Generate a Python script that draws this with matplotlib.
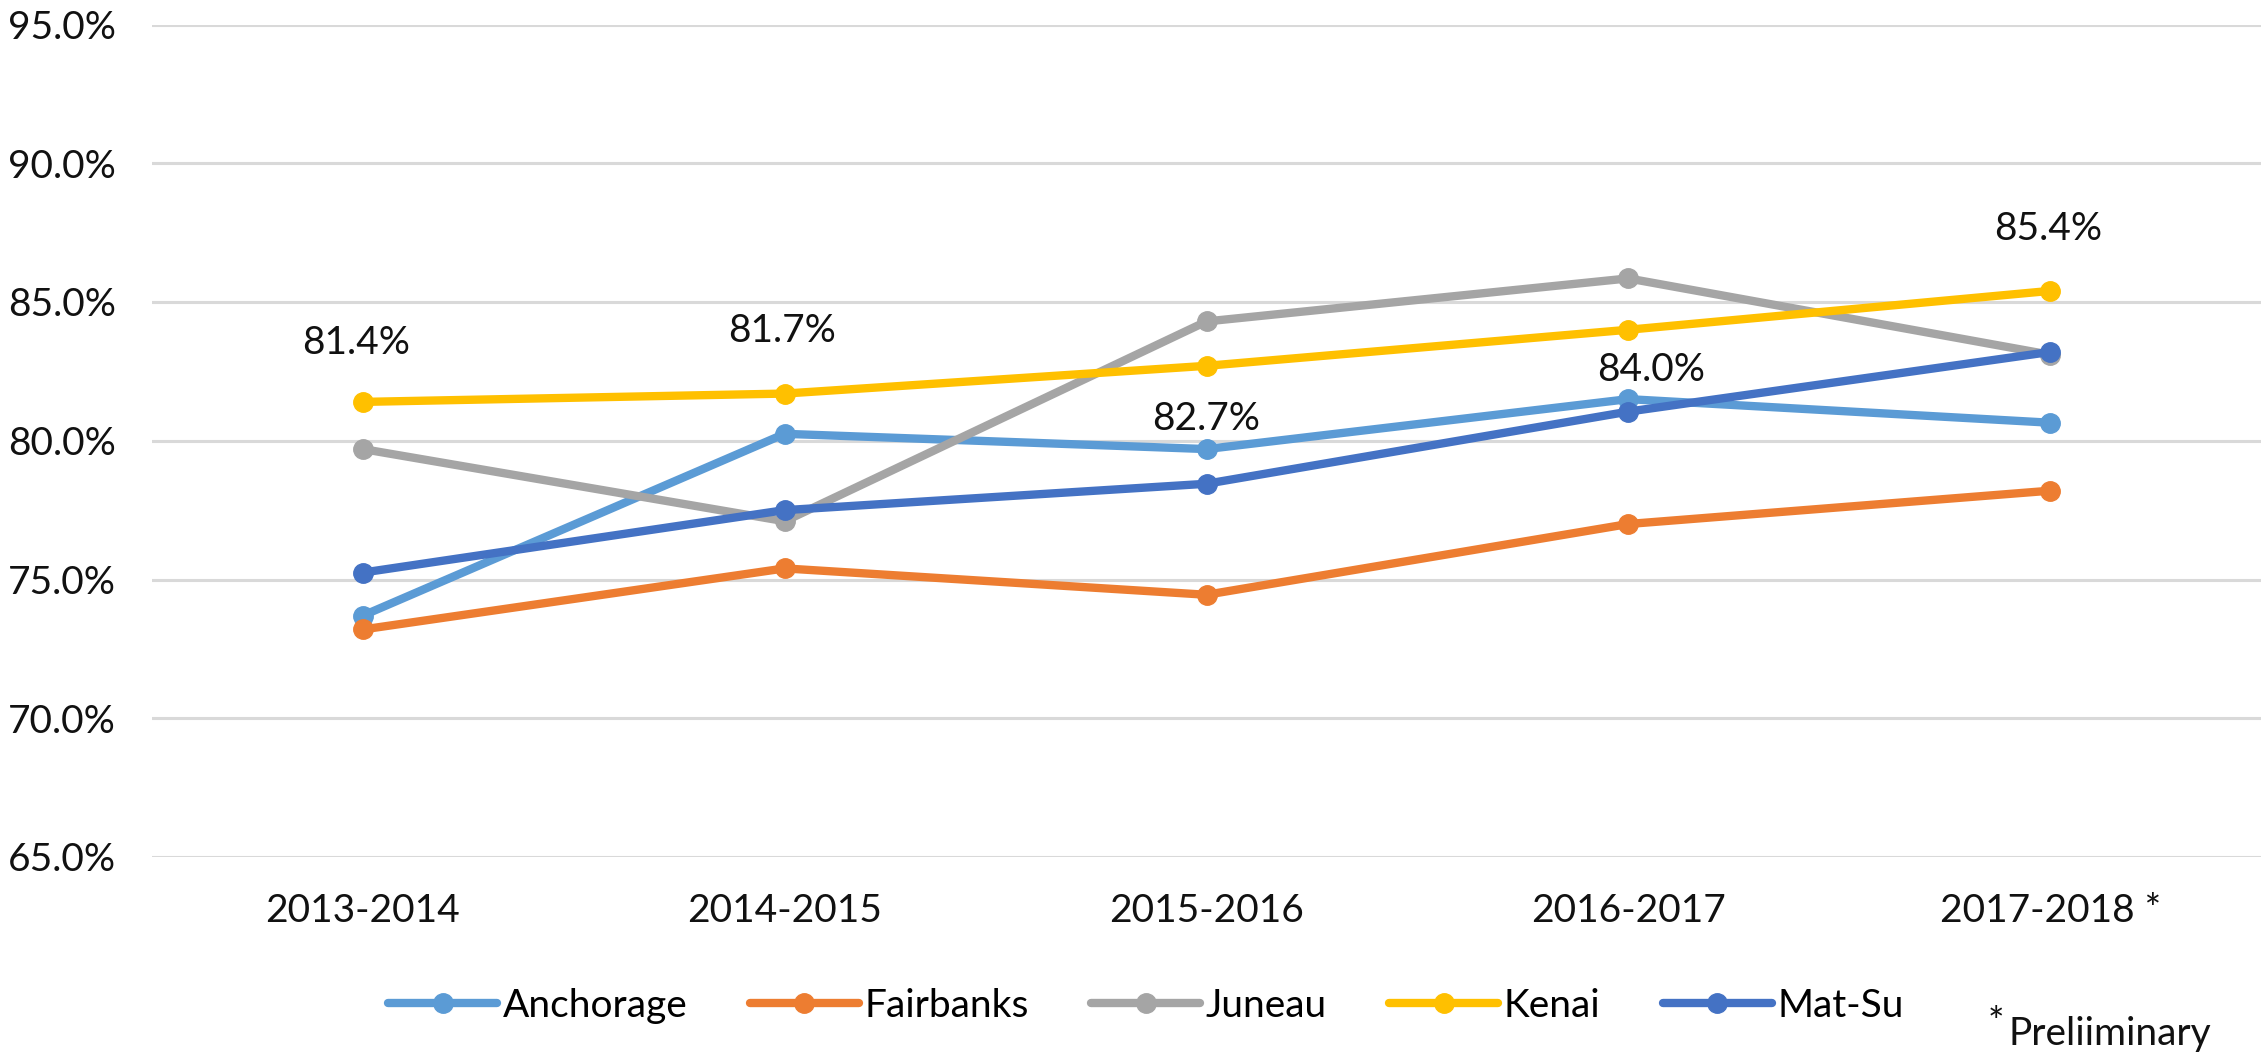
import numpy as np
import matplotlib

matplotlib.use("Agg")
import matplotlib.pyplot as plt


# school years on the x axis, last one preliminary
years = ["2013-2014", "2014-2015", "2015-2016", "2016-2017", "2017-2018 *"]

anchorage = [73.7, 80.25, 79.7, 81.5, 80.65]
fairbanks = [73.2, 75.4, 74.45, 77.0, 78.2]
juneau = [79.7, 77.1, 84.3, 85.85, 83.1]
kenai = [81.4, 81.7, 82.7, 84.0, 85.4]
matsu = [75.25, 77.5, 78.45, 81.05, 83.2]

series_names = ["Anchorage", "Fairbanks", "Juneau", "Kenai", "Mat-Su"]
series_colors = ["#5B9BD5", "#ED7D31", "#A5A5A5", "#FFC000", "#4472C4"]

# Kenai data label offsets (pixels) relative to each point
kenai_label_offsets = [(-7, 59), (-3, 63), (0, -53), (23, -40), (-2, 62)]

W, H, DPI = 2261, 1052, 100
FONT = ["Lato", "DejaVu Sans"]
FS = 28

plt.rcParams["font.family"] = FONT

fig = plt.figure(figsize=(W / DPI, H / DPI), dpi=DPI)
ax = fig.add_axes([152 / W, 195 / H, 1 - 152 / W, (857 - 24.5) / H])

x = np.arange(len(years))
lines = []
for name, vals, color in zip(series_names, [anchorage, fairbanks, juneau, kenai, matsu], series_colors):
    (ln,) = ax.plot(
        x, vals, color=color, linewidth=6, marker="o", markersize=14,
        label=name, solid_capstyle="round", zorder=3,
    )
    lines.append(ln)

for xi, v, (dx, dy) in zip(x, kenai, kenai_label_offsets):
    ax.annotate(
        f"{v:.1f}%", (xi, v), xytext=(dx, dy), textcoords="offset pixels",
        ha="center", va="center", fontsize=FS, color="#111", zorder=5,
    )

ax.set_xlim(-0.5, len(years) - 0.5)
ax.set_ylim(65, 95)
ax.set_yticks(np.arange(65, 95.1, 5))
ax.set_yticklabels([f"{t:.1f}%" for t in np.arange(65, 95.1, 5)])
ax.set_xticks(x)
ax.set_xticklabels(years)
ax.tick_params(axis="both", length=0, labelsize=FS, colors="#111")
ax.tick_params(axis="y", pad=26)
ax.tick_params(axis="x", pad=26)
ax.yaxis.grid(True, color="#d9d9d9", linewidth=2.2)
ax.set_axisbelow(True)
for spine in ax.spines.values():
    spine.set_visible(False)

fig.legend(
    handles=lines, loc="center", bbox_to_anchor=(1146 / W, 1 - 1006 / H),
    ncol=5, frameon=False, fontsize=FS, handlelength=2.8,
    handletextpad=0.15, columnspacing=1.6, borderaxespad=0,
)

fig.text(1996 / W, 1 - 1006 / H, "*", ha="center", va="top", fontsize=FS, color="#111")
fig.text(2008 / W, 1 - 1045 / H, "Preliiminary", ha="left", va="baseline", fontsize=FS, color="#111")

fig.savefig("out.png", dpi=DPI)
plt.close(fig)
